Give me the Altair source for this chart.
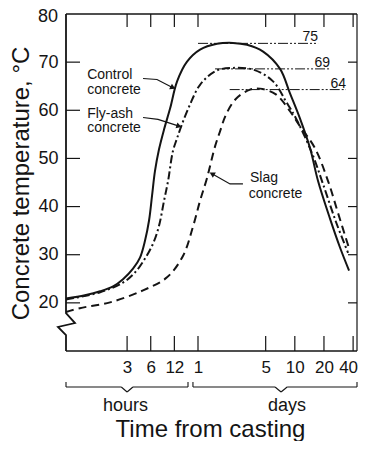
import altair as alt
import pandas as pd

# ---------------- data ----------------
# time from casting in hours, concrete temperature in deg C
control_h = [0.5, 0.87, 1.36, 1.99, 2.66, 3.57, 4.38, 5.07, 5.71, 6.23, 6.8, 7.65, 8.86, 10.6, 13.0,
             17.4, 25.2, 37.7, 55.2, 77, 113, 169, 214, 271, 345, 417, 554, 703, 872]
control_t = [20.9, 21.6, 22.4, 23.4, 24.9, 27.1, 29.4, 32.9, 37.1, 42.2, 47.4, 51.9, 56.0, 60.4, 66.0,
             70.1, 72.6, 73.8, 74.0, 73.6, 72.2, 68.6, 63.5, 58.3, 52.1, 45.3, 37.5, 31.5, 26.7]

flyash_h = [0.5, 1.36, 2.66, 3.78, 5.07, 6.42, 7.65, 8.86, 9.97, 11.5, 13.0, 15.0, 19.0, 25.2, 36.8,
            55.2, 91, 143, 195, 247, 361, 469, 639, 851]
flyash_t = [20.7, 22.2, 24.2, 26.3, 29.2, 32.3, 36.0, 41.2, 45.3, 51.5, 54.2, 57.1, 61.2, 65.3, 68.2,
            68.8, 68.4, 66.0, 61.8, 58.3, 51.1, 44.7, 36.8, 30.4]

slag_h = [0.5, 0.75, 1.82, 4.79, 9.67, 15.5, 20.7, 25.2, 29.7, 36, 40.5, 46.7, 59.3, 82.7, 105, 153,
          214, 271, 388, 529, 670, 872]
slag_t = [18.1, 18.9, 20.1, 22.6, 25.3, 29.8, 35.8, 41.2, 45.9, 52.5, 55.6, 59.1, 62.4, 64.3, 64.5, 63.3,
          59.8, 56.7, 52.1, 45.3, 38.7, 31.3]

tick_hours = [3, 6, 12, 24, 120, 240, 480, 960]
tick_labels = ["3", "6", "12", "1", "5", "10", "20", "40"]
temp_ticks = [20, 30, 40, 50, 60, 70, 80]

peak_labels = ["75", "69", "64"]
peak_levels = [73.9, 68.6, 64.3]
peak_from_h = [24, 36, 51]
peak_to_h = [417, 554, 810]

note_text = ["Control", "concrete", "Fly-ash", "concrete", "Slag", "concrete"]
note_h = [0.93, 0.93, 0.93, 0.93, 82.7, 80.0]
note_t = [66.4, 63.3, 58.5, 55.4, 45.1, 41.8]

leader_name = ["Control"] * 3 + ["Fly-ash"] * 3 + ["Slag"] * 3
leader_h = [4.79, 7.21, 11.5, 4.79, 7.43, 13.75, 69.9, 51.4, 33.5]
leader_t = [66.6, 66.4, 64.7, 58.5, 58.1, 56.7, 44.7, 44.7, 46.8]

# axis break on the temperature axis
break_h = [0.5, 0.5, 0.651, 0.395, 0.5, 0.5]
break_t = [80, 17.85, 15.8, 15.0, 13.3, 10]

# time brackets: start, V left, V tip, V right, end (hours)
bracket_text = ["hours", "days"]
bracket_start = [0.5, 20.7]
bracket_vl = [2.53, 150]
bracket_tip = [3.0, 173]
bracket_vr = [3.56, 200]
bracket_end = [17.9, 1053]
bracket_label_h = [2.87, 199]

# ---------------- chart ----------------
W, H = 291, 337
INK = "#141414"
FONT = "Liberation Sans"

xscale = alt.Scale(type="log", domain=[0.5, 24, 1053], range=[0, 132, W], nice=False)
yscale = alt.Scale(domain=[10, 80], nice=False, zero=False)

label_expr = "".join(f"datum.value == {h} ? '{l}' : " for h, l in zip(tick_hours, tick_labels)) + "''"

x_axis = alt.Axis(values=tick_hours, labelExpr=label_expr, ticks=False, domain=False, grid=False,
                  labelFont=FONT, labelFontSize=17, labelColor=INK, labelPadding=8,
                  labelFlush=False, labelOverlap=False,
                  labelOffset={"condition": {"test": f"datum.value == {tick_hours[-1]}", "value": -5},
                               "value": 0},
                  title="Time from casting", titleFont=FONT, titleFontSize=24,
                  titleFontWeight="normal", titleColor=INK, titleX=144, titleY=85,
                  titleBaseline="alphabetic", titleAlign="center")
y_axis = alt.Axis(values=temp_ticks[:-1], ticks=False, domain=False, grid=False,
                  labelFont=FONT, labelFontSize=18, labelColor=INK, labelPadding=8,
                  labelFlush=False, labelOverlap=False,
                  title="Concrete temperature, °C", titleFont=FONT, titleFontSize=24,
                  titleFontWeight="normal", titleColor=INK, titleAngle=270,
                  titleX=-38, titleY=169, titleBaseline="alphabetic", titleAlign="center")


def xq(f):
    return alt.X(f"{f}:Q", scale=xscale, axis=x_axis)


def x2q(f):
    return alt.X2(f"{f}:Q")


def yq(f):
    return alt.Y(f"{f}:Q", scale=yscale, axis=y_axis)


one = pd.DataFrame({"k": [0]})

frame_top = alt.Chart(one).mark_rule(color=INK, strokeWidth=1.5).encode(
    x=alt.value(0), x2=alt.value(W), y=alt.value(0))
frame_right = alt.Chart(one).mark_rule(color=INK, strokeWidth=1.2).encode(
    x=alt.value(W), y=alt.value(0), y2=alt.value(H))
frame_bottom = alt.Chart(one).mark_rule(color=INK, strokeWidth=1.6).encode(
    x=alt.value(0), x2=alt.value(W), y=alt.value(H))

spine_df = pd.DataFrame({"h": break_h, "t": break_t, "i": range(len(break_h))})
spine = alt.Chart(spine_df).mark_line(color=INK, strokeWidth=1.8).encode(
    x=xq("h"), y=yq("t"), order="i:Q")

# top label of the temperature axis, sitting in the corner
top_df = pd.DataFrame({"t": temp_ticks[-1:], "s": [str(temp_ticks[-1])]})
top_label = alt.Chart(top_df).mark_text(font=FONT, fontSize=18, color=INK, align="right",
                                        baseline="middle", dy=3).encode(
    x=alt.value(-8), y=yq("t"), text="s:N")

tick_df = pd.DataFrame({"h": tick_hours})
temp_df = pd.DataFrame({"t": temp_ticks[:-1]})
xt_bottom = alt.Chart(tick_df).mark_rule(color=INK, strokeWidth=1.2).encode(
    x=xq("h"), y=alt.value(H - 15), y2=alt.value(H))
xt_top = alt.Chart(tick_df).mark_rule(color=INK, strokeWidth=1.2).encode(
    x=xq("h"), y=alt.value(0), y2=alt.value(13))
yt_left = alt.Chart(temp_df).mark_rule(color=INK, strokeWidth=1.2).encode(
    y=yq("t"), x=alt.value(0), x2=alt.value(14))
yt_right = alt.Chart(temp_df).mark_rule(color=INK, strokeWidth=1.2).encode(
    y=yq("t"), x=alt.value(W - 9), x2=alt.value(W))


def curve(hs, ts, dash):
    df = pd.DataFrame({"h": hs, "t": ts})
    kw = dict(color=INK, strokeWidth=2.0, interpolate="catmull-rom")
    if dash:
        kw["strokeDash"] = dash
    return alt.Chart(df).mark_line(**kw).encode(x=xq("h"), y=yq("t"))


c_control = curve(control_h, control_t, None)
c_flyash = curve(flyash_h, flyash_t, [8, 3, 2, 3])
c_slag = curve(slag_h, slag_t, [8, 5])

peak_df = pd.DataFrame({"lab": peak_labels, "t": peak_levels, "h0": peak_from_h, "h1": peak_to_h})
peak_lines = alt.Chart(peak_df).mark_rule(color=INK, strokeWidth=1.0, strokeDash=[10, 2, 2, 2, 2, 2]).encode(
    x=xq("h0"), x2=x2q("h1"), y=yq("t"))
peak_text = alt.Chart(peak_df).mark_text(font=FONT, fontSize=14, color=INK, align="right",
                                         baseline="alphabetic", dy=-2).encode(
    x=xq("h1"), y=yq("t"), text="lab:N")

note_df = pd.DataFrame({"s": note_text, "h": note_h, "t": note_t})
notes = alt.Chart(note_df).mark_text(font=FONT, fontSize=14, color=INK, align="left",
                                     baseline="alphabetic").encode(
    x=xq("h"), y=yq("t"), text="s:N")

lead_df = pd.DataFrame({"name": leader_name, "h": leader_h, "t": leader_t, "i": range(len(leader_h))})
leaders = alt.Chart(lead_df).mark_line(color=INK, strokeWidth=1.2).encode(
    x=xq("h"), y=yq("t"), detail="name:N", order="i:Q")

arrow_angles = {"Control": 27, "Fly-ash": 18, "Slag": 209}
heads = []
for nm, ang in arrow_angles.items():
    tip = lead_df[lead_df["name"] == nm].iloc[[-1]]
    heads.append(alt.Chart(tip).mark_point(shape="triangle-right", filled=True, color=INK, size=38,
                                           angle=ang, opacity=1).encode(x=xq("h"), y=yq("t")))

br_df = pd.DataFrame({"lab": bracket_text, "s": bracket_start, "vl": bracket_vl, "tip": bracket_tip,
                      "vr": bracket_vr, "e": bracket_end, "lh": bracket_label_h})
BY, TY, HY = H + 36, H + 41, H + 31
br_left = alt.Chart(br_df).mark_rule(color=INK, strokeWidth=1.1).encode(
    x=xq("s"), x2=x2q("vl"), y=alt.value(BY))
br_right = alt.Chart(br_df).mark_rule(color=INK, strokeWidth=1.1).encode(
    x=xq("vr"), x2=x2q("e"), y=alt.value(BY))
br_d1 = alt.Chart(br_df).mark_rule(color=INK, strokeWidth=1.1).encode(
    x=xq("vl"), x2=x2q("tip"), y=alt.value(BY), y2=alt.value(TY))
br_d2 = alt.Chart(br_df).mark_rule(color=INK, strokeWidth=1.1).encode(
    x=xq("tip"), x2=x2q("vr"), y=alt.value(TY), y2=alt.value(BY))
br_h1 = alt.Chart(br_df).mark_rule(color=INK, strokeWidth=1.1).encode(
    x=xq("s"), y=alt.value(HY), y2=alt.value(BY))
br_h2 = alt.Chart(br_df).mark_rule(color=INK, strokeWidth=1.1).encode(
    x=xq("e"), y=alt.value(HY), y2=alt.value(BY))
br_text = alt.Chart(br_df).mark_text(font=FONT, fontSize=18, color=INK, align="center",
                                     baseline="alphabetic").encode(
    x=xq("lh"), y=alt.value(H + 60), text="lab:N")

chart = alt.layer(
    c_control, c_flyash, c_slag,
    frame_top, frame_right, frame_bottom, spine, top_label,
    xt_bottom, xt_top, yt_left, yt_right,
    peak_lines, peak_text, notes, leaders, *heads,
    br_left, br_right, br_d1, br_d2, br_h1, br_h2, br_text,
).properties(
    width=W, height=H,
    padding={"left": 58, "top": 6, "right": 1, "bottom": 90},
    autosize=alt.AutoSizeParams(type="none"),
    background="white",
).configure_view(stroke=None)

chart.save("out.html", embed_options={"renderer": "svg", "actions": False})
